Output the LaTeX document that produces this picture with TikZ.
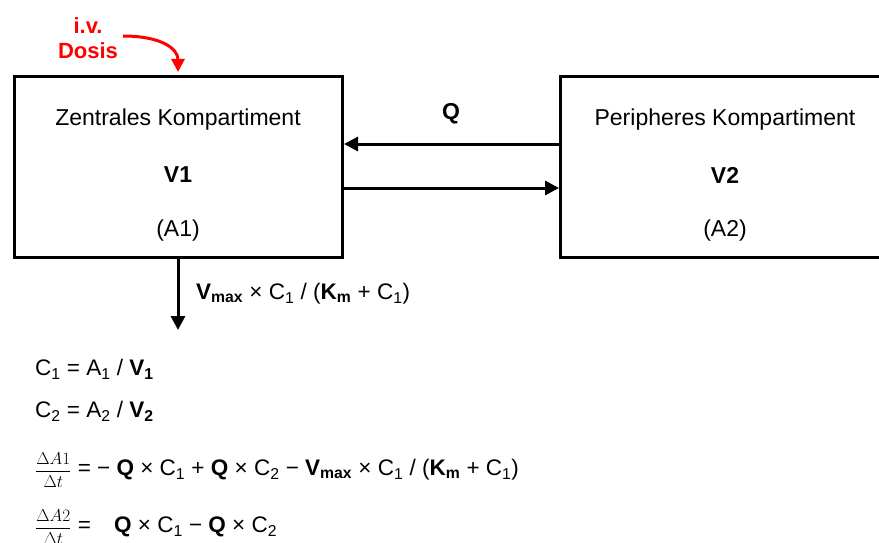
\documentclass[tikz,border=0pt]{standalone}
\usepackage{fontspec}
\setmainfont{Liberation Sans}
\usetikzlibrary{arrows.meta}
\newcommand{\lowsub}[1]{\textsubscript{#1}}
\newcommand{\bsub}[1]{\textsubscript{\bfseries #1}}
\newcommand{\rate}[2]{{\fontsize{17.5}{20}\selectfont$\displaystyle\frac{#1}{#2}$}}
\begin{document}
\begin{tikzpicture}[x=1pt,y=-1pt,
  every node/.style={font=\fontsize{23}{27}\selectfont, inner sep=0pt},
  comp/.style={draw, line width=3pt},
  flow/.style={line width=3pt, -{Triangle[length=14pt,width=14pt]}},
  doseflow/.style={red, line width=3pt, -{Triangle[length=13pt,width=13pt]}},
  dose/.style={red, font=\fontsize{22}{26}\selectfont\bfseries, align=center},
  eq/.style={anchor=west, font=\fontsize{22.5}{27}\selectfont}]
\useasboundingbox (0,0) rectangle (879,543);
\begin{scope}
\clip (0,0) rectangle (879,543);
\draw[comp] (14.5,76.5) rectangle (342.5,257);
\draw[comp] (560.5,76.5) rectangle (892,257);
\end{scope}
\node (t1) at (178,120) {Zentrales Kompartiment};
\node (v1) at (178,175) {\bfseries V1};
\node (a1) at (178,231) {(A1)};
\node (t2) at (725,120) {Peripheres Kompartiment};
\node (v2) at (725,175) {\bfseries V2};
\node (a2) at (725,231) {(A2)};
\node (q) at (451,114) {\bfseries Q};
% exchange arrows
\coordinate (r1) at (560,144);
\coordinate (l1) at (344,144);
\coordinate (l2) at (344,188);
\coordinate (r2) at (559,188);
\draw[flow] (r1) -- (l1);
\draw[flow] (l2) -- (r2);
% elimination
\coordinate (e0) at (178,258);
\coordinate (e1) at (178,330);
\draw[flow] (e0) -- (e1);
\node[eq] (elim) at (196,294) {\bfseries V\bsub{max}\mdseries{} × C\lowsub{1} / (\textbf{K}\bsub{m} + C\lowsub{1})};
% dose
\node[dose] (dosis) at (88,38.5) {i.v.\\[-1pt]Dosis};
\coordinate (d0) at (123,36);
\coordinate (d1) at (178,72);
\draw[doseflow] (d0) .. controls (160,36) and (178,48) .. (d1);
% equations
\node[eq] (eqa) at (35,369) {C\lowsub{1} = A\lowsub{1} / \textbf{V\lowsub{1}}};
\node[eq] (eqb) at (35,411) {C\lowsub{2} = A\lowsub{2} / \textbf{V\lowsub{2}}};
\node[eq] (eqc) at (35,470) {\rate{\Delta A1}{\Delta t} = − \textbf{Q} × C\lowsub{1} + \textbf{Q} × C\lowsub{2} − \textbf{V}\bsub{max} × C\lowsub{1} / (\textbf{K}\bsub{m} + C\lowsub{1})};
\node[eq] (eqd) at (35,527) {\rate{\Delta A2}{\Delta t} =};
\node[eq] (eqe) at (114,527) {\textbf{Q} × C\lowsub{1} − \textbf{Q} × C\lowsub{2}};
\end{tikzpicture}
\end{document}
